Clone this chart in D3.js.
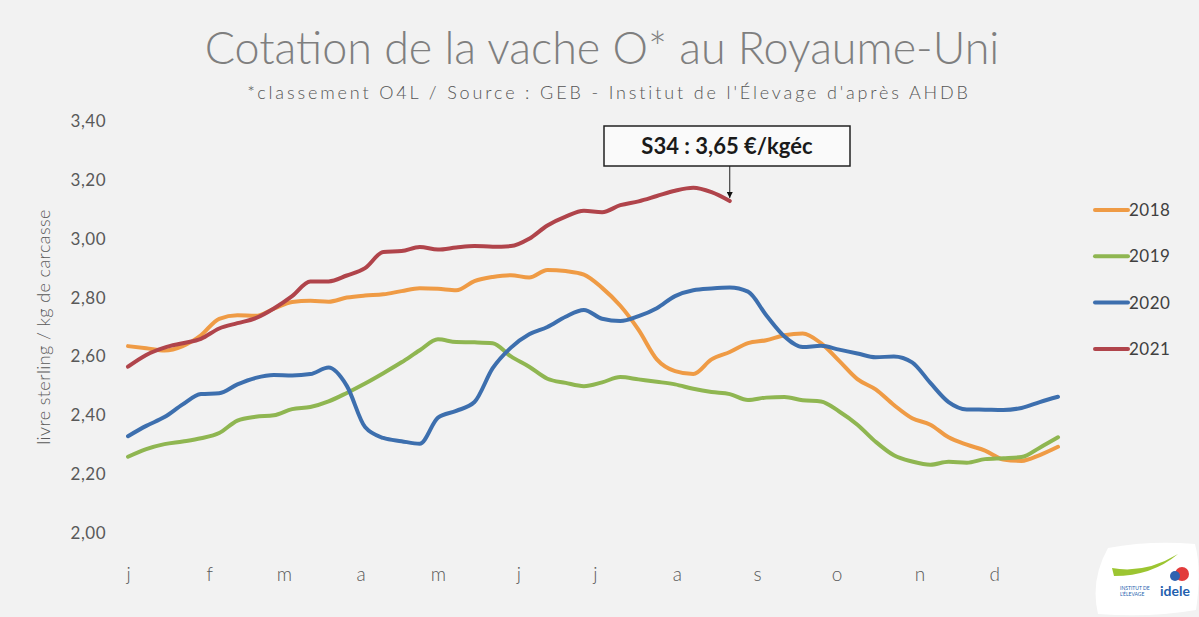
<!DOCTYPE html>
<html>
<head>
<meta charset="utf-8">
<script src="https://cdn.jsdelivr.net/npm/d3@7"></script>
<style>
  body { margin: 0; background: #f2f2f2; }
  svg { display: block; font-family: Lato, "Open Sans", sans-serif; }
</style>
</head>
<body>
<svg id="chart"></svg>
<script>
const years = ["2018", "2019", "2020", "2021"];
const colors = ["#ef9b45", "#8fb651", "#3d6fae", "#b0444b"];
const months = ["j", "f", "m", "a", "m", "j", "j", "a", "s", "o", "n", "d"];
const monthWeeks = [1, 5.45, 9.55, 13.75, 18.0, 22.4, 26.6, 31.1, 35.5, 39.85, 44.4, 48.5];
const yTicks = [2.0, 2.2, 2.4, 2.6, 2.8, 3.0, 3.2, 3.4];

const v2018 = [2.635, 2.628, 2.62, 2.635, 2.672, 2.728, 2.74, 2.738, 2.762, 2.785, 2.789, 2.786, 2.80,
  2.807, 2.811, 2.822, 2.832, 2.83, 2.825, 2.856, 2.87, 2.876, 2.868, 2.894, 2.89, 2.878, 2.833,
  2.772, 2.69, 2.59, 2.55, 2.54, 2.59, 2.615, 2.645, 2.655, 2.672, 2.678, 2.645, 2.585, 2.523,
  2.488, 2.435, 2.39, 2.368, 2.325, 2.30, 2.28, 2.25, 2.245, 2.265, 2.293];
const v2019 = [2.259, 2.285, 2.302, 2.311, 2.322, 2.34, 2.382, 2.395, 2.40, 2.421, 2.428, 2.447, 2.476,
  2.508, 2.543, 2.58, 2.621, 2.658, 2.649, 2.648, 2.645, 2.60, 2.565, 2.524, 2.51, 2.499, 2.512,
  2.53, 2.522, 2.514, 2.505, 2.49, 2.479, 2.472, 2.452, 2.46, 2.462, 2.451, 2.447, 2.413, 2.368,
  2.31, 2.264, 2.243, 2.232, 2.242, 2.239, 2.251, 2.254, 2.258, 2.29, 2.325];
const v2020 = [2.329, 2.364, 2.394, 2.437, 2.472, 2.475, 2.505, 2.527, 2.537, 2.535, 2.54, 2.562, 2.50,
  2.36, 2.323, 2.312, 2.303, 2.392, 2.415, 2.445, 2.56, 2.63, 2.675, 2.70, 2.735, 2.758, 2.728,
  2.72, 2.737, 2.764, 2.805, 2.825, 2.831, 2.834, 2.82, 2.74, 2.668, 2.632, 2.636, 2.623, 2.61,
  2.597, 2.60, 2.58, 2.51, 2.445, 2.42, 2.419, 2.418, 2.425, 2.445, 2.463];
const v2021 = [2.565, 2.605, 2.63, 2.645, 2.66, 2.695, 2.713, 2.73, 2.763, 2.805, 2.855, 2.855, 2.875,
  2.90, 2.955, 2.958, 2.972, 2.963, 2.97, 2.975, 2.973, 2.975, 3.0, 3.045, 3.075, 3.095, 3.09,
  3.114, 3.127, 3.145, 3.163, 3.173, 3.158, 3.128];
const series = [v2018, v2019, v2020, v2021];

const W = 1199, H = 617;
const svg = d3.select("#chart").attr("width", W).attr("height", H);

svg.append("rect").attr("width", W).attr("height", H).attr("fill", "#f2f2f2");

const x = d3.scaleLinear().domain([1, 52]).range([128, 1058]);
const y = d3.scaleLinear().domain([2, 3.4]).range([533, 121]);

const comma = d3.formatLocale({ decimal: ",", thousands: " ", grouping: [3], currency: ["", "€"] }).format(".2f");

// the original font is wider, so stretch text to the same width
function fitSize(sel, width) {
  const len = sel.node().getComputedTextLength();
  const fs = parseFloat(sel.attr("font-size"));
  sel.attr("font-size", fs * width / len);
}
function fitSpacing(sel, width) {
  const len = sel.node().getComputedTextLength();
  const n = sel.text().length;
  sel.attr("letter-spacing", (width - len) / n);
}

const title = svg.append("text")
  .attr("x", 602).attr("y", 64)
  .attr("text-anchor", "middle")
  .attr("font-size", 36)
  .attr("font-weight", 300)
  .attr("fill", "#7f7f7f")
  .text("Cotation de la vache O* au Royaume-Uni");
fitSize(title, 795);

const sub = svg.append("text")
  .attr("x", 609).attr("y", 99)
  .attr("text-anchor", "middle")
  .attr("font-size", 18)
  .attr("font-weight", 300)
  .attr("fill", "#555555")
  .text("*classement O4L / Source : GEB - Institut de l'Élevage d'après AHDB");
fitSpacing(sub, 724);

// y axis
const yAxis = svg.append("g")
  .attr("transform", "translate(106,0)")
  .call(d3.axisLeft(y).tickValues(yTicks).tickFormat(comma).tickSize(0).tickPadding(0));
yAxis.select(".domain").remove();
yAxis.selectAll("text").attr("font-size", 17).attr("fill", "#595959")
  .attr("font-family", "Lato, sans-serif").attr("letter-spacing", 0.5);

svg.append("text")
  .attr("transform", "translate(50,327) rotate(-90)")
  .attr("text-anchor", "middle")
  .attr("font-size", 18)
  .attr("font-weight", 300)
  .attr("letter-spacing", 0.4)
  .attr("fill", "#595959")
  .text("livre sterling / kg de carcasse");

// x axis
const xAxis = svg.append("g")
  .attr("transform", "translate(0,567)")
  .call(d3.axisBottom(x).tickValues(monthWeeks).tickFormat((d, i) => months[i]).tickSize(0).tickPadding(0));
xAxis.select(".domain").remove();
xAxis.selectAll("text").attr("font-size", 19).attr("fill", "#595959")
  .attr("font-family", "Lato, sans-serif").attr("font-weight", 300);

// lines
const line = d3.line()
  .x((d, i) => x(i + 1))
  .y(d => y(d))
  .curve(d3.curveMonotoneX);

svg.append("g").selectAll("path")
  .data(series)
  .join("path")
  .attr("d", d => line(d))
  .attr("fill", "none")
  .attr("stroke", (d, i) => colors[i])
  .attr("stroke-width", 4)
  .attr("stroke-linejoin", "round")
  .attr("stroke-linecap", "round");

// legend
const legend = svg.append("g").selectAll("g")
  .data(years)
  .join("g")
  .attr("transform", (d, i) => `translate(1095,${210 + i * 46.3})`);
legend.append("line")
  .attr("x1", 0).attr("x2", 33)
  .attr("stroke", (d, i) => colors[i])
  .attr("stroke-width", 4)
  .attr("stroke-linecap", "round");
legend.append("text")
  .attr("x", 34).attr("dy", "0.35em")
  .attr("font-size", 17)
  .attr("letter-spacing", 0.5)
  .attr("fill", "#404040")
  .text(d => d);

// annotation S34
const last = v2021.length;
const ax = x(last), ay = y(v2021[last - 1]);
svg.append("defs").append("marker")
  .attr("id", "arr").attr("viewBox", "0 0 10 10")
  .attr("refX", 10).attr("refY", 5)
  .attr("markerWidth", 6).attr("markerHeight", 6)
  .attr("orient", "auto")
  .append("path").attr("d", "M0,0L10,5L0,10z").attr("fill", "#111");
svg.append("line")
  .attr("x1", ax).attr("x2", ax)
  .attr("y1", 166).attr("y2", ay - 3)
  .attr("stroke", "#222").attr("stroke-width", 1)
  .attr("marker-end", "url(#arr)");
svg.append("rect")
  .attr("x", 604).attr("y", 126).attr("width", 246).attr("height", 40)
  .attr("fill", "#fafafa").attr("stroke", "#222").attr("stroke-width", 1.5);
svg.append("text")
  .attr("x", 727).attr("y", 154)
  .attr("text-anchor", "middle")
  .attr("font-size", 22).attr("font-weight", 700)
  .attr("fill", "#1a1a1a")
  .text("S34 : 3,65 €/kgéc");

// logo
const logo = svg.append("g").attr("transform", "translate(1090,540)");
logo.append("path")
  .attr("d", "M18,8 Q60,0 105,4 Q112,30 106,70 Q60,78 8,74 Q0,40 18,8z")
  .attr("fill", "#ffffff");
logo.append("path")
  .attr("d", "M22,28 Q55,34 88,14 Q62,36 24,36z")
  .attr("fill", "#9cc531");
logo.append("circle").attr("cx", 92).attr("cy", 34).attr("r", 7).attr("fill", "#e23b3b");
logo.append("circle").attr("cx", 85).attr("cy", 36).attr("r", 5).attr("fill", "#2f62b0");
logo.append("text")
  .attr("x", 70).attr("y", 56)
  .attr("font-size", 14).attr("font-weight", 700)
  .attr("fill", "#1f5fae")
  .text("idele");
logo.append("text")
  .attr("x", 30).attr("y", 50)
  .attr("font-size", 5).attr("fill", "#1f5fae")
  .text("INSTITUT DE");
logo.append("text")
  .attr("x", 30).attr("y", 56)
  .attr("font-size", 5).attr("fill", "#1f5fae")
  .text("L'ÉLEVAGE");
</script>
</body>
</html>
